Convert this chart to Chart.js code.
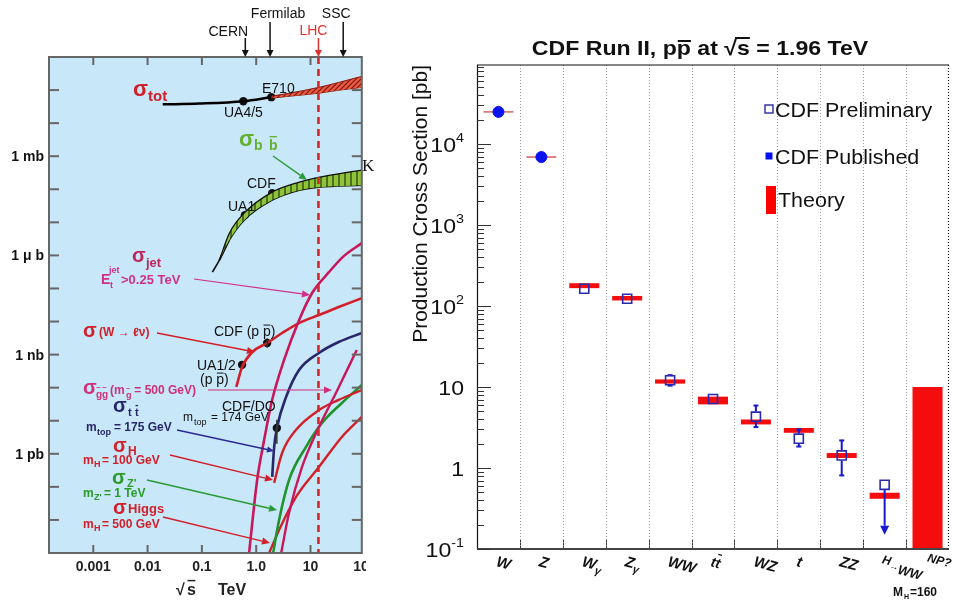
<!DOCTYPE html>
<html><head><meta charset="utf-8">
<script src="https://cdn.jsdelivr.net/npm/chart.js@4.4.0/dist/chart.umd.min.js"></script>
<style>
html,body{margin:0;padding:0;background:#fff;width:957px;height:600px;overflow:hidden}
#lwrap{position:absolute;left:0;top:0;width:366px;height:600px}
#rwrap{position:absolute;left:400px;top:0;width:557px;height:600px}
#kch{position:absolute;left:362px;top:156px;font:17px "Liberation Serif",serif;color:#111}
</style></head><body>
<div id="lwrap"><canvas id="left" width="366" height="600"></canvas></div>
<div id="rwrap"><canvas id="right" width="557" height="600"></canvas></div>
<div id="kch">K</div>
<script>
// ================= LEFT PANEL DATA (x: sqrt(s) in TeV, y: cross section in barn) =================
const totX = [0.019, 0.09, 0.58, 1.9, 6.2, 14, 33, 88];
const totY = [0.037, 0.039, 0.046, 0.061, 0.080, 0.10, 0.135, 0.185];
const totBandX = [1.9, 4.0, 14, 33, 88];
const totBandHi = [0.065, 0.080, 0.12, 0.17, 0.26];
const totBandLo = [0.057, 0.065, 0.080, 0.099, 0.12];
const totPtsX = [0.58, 1.9];
const totPtsY = [0.046, 0.061];

const bbTailX = [0.156, 0.21, 0.32];
const bbTailY = [3.1e-7, 7.2e-7, 2.9e-6];
const bbX = [0.21, 0.32, 0.60, 1.97, 6.2, 14, 88];
const bbHi = [7.2e-7, 4.7e-6, 1.9e-5, 8.2e-5, 1.64e-4, 2.3e-4, 3.8e-4];
const bbLo = [7.2e-7, 2.9e-6, 1.16e-5, 4.7e-5, 9.4e-5, 1.16e-4, 1.33e-4];
const bbPtsX = [0.62, 1.97];
const bbPtsY = [1.65e-5, 7.6e-5];

const jetX = [0.74, 1.04, 1.40, 1.97, 3.26, 6.15, 10.7, 21.8, 41, 88];
const jetY = [1e-15, 1.6e-13, 2.6e-12, 4.3e-11, 6.9e-10, 1.1e-8, 7.3e-8, 3.1e-7, 9.5e-7, 2.35e-6];

const wX = [0.43, 0.55, 0.85, 1.59, 3.0, 6.15, 14.3, 33, 88];
const wY = [1.05e-10, 4.2e-10, 1.2e-9, 2.24e-9, 4.5e-9, 9.0e-9, 1.57e-8, 2.74e-8, 5.1e-8];
const wPtsX = [0.55, 1.59];
const wPtsY = [4.9e-10, 2.24e-9];

const ttX = [1.97, 2.14, 2.43, 3.55, 6.15, 14.3, 33, 88];
const ttY = [2.0e-13, 1.6e-12, 6.5e-12, 5.2e-11, 3.4e-10, 1.12e-9, 2.4e-9, 4.5e-9];
const ttPtsX = [2.4];
const ttPtsY = [6.0e-12];

const ggX = [2.88, 4.03, 6.98, 14.3, 29.4, 71];
const ggY = [1e-15, 1.64e-14, 4.0e-13, 6.5e-12, 6.9e-11, 1.38e-9];

const h100X = [2.14, 3.0, 5.42, 14.3, 33, 88];
const h100Y = [1.32e-13, 1.06e-12, 5.3e-12, 2.1e-11, 4.25e-11, 8.5e-11];

const zpX = [2.05, 2.64, 4.03, 8.27, 16.3, 37.8, 88];
const zpY = [1e-15, 1.0e-14, 1.63e-13, 1.62e-12, 8.6e-12, 3.45e-11, 1.21e-10];

const h500X = [1.73, 2.64, 5.42, 14.3, 37.8, 88];
const h500Y = [1e-15, 5.0e-15, 5.0e-14, 4.0e-13, 3.24e-12, 1.3e-11];

const colliderNames = ['CERN', 'Fermilab', 'LHC', 'SSC'];
const colliderE = [0.63, 1.8, 14, 40];
const xTickVals = [0.001, 0.01, 0.1, 1, 10, 100];
const xTickLabels = ['0.001', '0.01', '0.1', '1.0', '10', '100'];
const yTickVals = [1e-3, 1e-6, 1e-9, 1e-12];
const yTickLabels = ['1 mb', '1 \u03bc b', '1 nb', '1 pb'];

// ================= RIGHT PANEL DATA (pb) =================
const processes = ['W', 'Z', 'W\u03b3', 'Z\u03b3', 'WW', 'tt\u0304', 'WZ', 't', 'ZZ', 'H\u2192WW', 'NP?'];
const cdfPublished   = [24900, 6900, null, null, null, null, null, null, null, null, null];
const cdfPreliminary = [null, null, 163, 123, 12.1, 7.1, 4.3, 2.3, 1.43, 0.62, null];
const errLow  = [null, null, 152, 116, 10.4, 6.7, 3.2, 1.84, 0.81, null, null];
const errHigh = [null, null, 175, 131, 14.0, 7.5, 5.9, 2.99, 2.19, null, null];
const upperLimitTo = [null, null, null, null, null, null, null, null, null, 0.15, null];
const theoryLow  = [24400, 6760, 166, 117, 11.0, 6.1, 3.45, 2.72, 1.33, 0.417, 0.1];
const theoryHigh = [25400, 7050, 191, 133, 12.4, 7.6, 3.97, 3.12, 1.53, 0.495, 10];
const rYTickVals = [0.1, 1, 10, 100, 1000, 10000];
const rYTickBase = ['10', '1', '10', '10', '10', '10'];
const rYTickExp  = ['-1', '', '', '2', '3', '4'];

// ================= helpers =================
const SANS = '"Liberation Sans", Arial, Helvetica, sans-serif';
function T(ctx, s, x, y, size, color, opt) {
  opt = opt || {};
  ctx.save();
  ctx.font = (opt.italic ? 'italic ' : '') + (opt.bold ? 'bold ' : '') + size + 'px ' + SANS;
  ctx.fillStyle = color;
  ctx.textBaseline = opt.baseline || 'alphabetic';
  ctx.textAlign = 'left';
  const sx = opt.sx || 1;
  const w = ctx.measureText(s).width * sx;
  let x0 = x;
  if (opt.align === 'center') x0 = x - w / 2;
  else if (opt.align === 'right') x0 = x - w;
  ctx.translate(x0, y);
  ctx.scale(sx, 1);
  ctx.fillText(s, 0, 0);
  if (opt.over) {
    ctx.strokeStyle = color; ctx.lineWidth = opt.overW || 1.3;
    const yy = -size * (opt.overY || 0.8);
    ctx.beginPath(); ctx.moveTo(0.5, yy); ctx.lineTo(w / sx - 0.5, yy); ctx.stroke();
  }
  ctx.restore();
  return w;
}
function measure(ctx, s, size, opt) {
  opt = opt || {};
  ctx.save();
  ctx.font = (opt.italic ? 'italic ' : '') + (opt.bold ? 'bold ' : '') + size + 'px ' + SANS;
  const w = ctx.measureText(s).width * (opt.sx || 1);
  ctx.restore();
  return w;
}
function arrow(ctx, x1, y1, x2, y2, color, w, head, hw) {
  head = head || 8; hw = hw || head * 0.45;
  const ang = Math.atan2(y2 - y1, x2 - x1);
  const bx = x2 - head * Math.cos(ang), by = y2 - head * Math.sin(ang);
  ctx.save();
  ctx.strokeStyle = color; ctx.fillStyle = color; ctx.lineWidth = w;
  ctx.beginPath(); ctx.moveTo(x1, y1); ctx.lineTo(bx, by); ctx.stroke();
  ctx.beginPath(); ctx.moveTo(x2, y2);
  ctx.lineTo(bx - hw * Math.sin(ang), by + hw * Math.cos(ang));
  ctx.lineTo(bx + hw * Math.sin(ang), by - hw * Math.cos(ang));
  ctx.closePath(); ctx.fill();
  ctx.restore();
}
function seg(ctx, x1, y1, x2, y2) { ctx.beginPath(); ctx.moveTo(x1, y1); ctx.lineTo(x2, y2); ctx.stroke(); }
const xy = (xs, ys) => xs.map((x, i) => ({x: x, y: ys[i]}));

// ================= LEFT CHART =================
const lctx = document.getElementById('left').getContext('2d');
function pattern(bg, fg, kind) {
  const c = document.createElement('canvas');
  const n = kind === 'diag' ? 5 : 6;
  c.width = n; c.height = n;
  const g = c.getContext('2d');
  g.fillStyle = bg; g.fillRect(0, 0, n, n);
  g.strokeStyle = fg; g.lineWidth = 1.1;
  g.beginPath();
  if (kind === 'diag') {
    g.moveTo(0, n); g.lineTo(n, 0); g.moveTo(-1, 1); g.lineTo(1, -1); g.moveTo(n - 1, n + 1); g.lineTo(n + 1, n - 1);
  } else {
    g.moveTo(n / 2, 0); g.lineTo(n / 2, n);
  }
  g.stroke();
  return lctx.createPattern(c, 'repeat');
}
const RED = '#d2202a', CRIM = '#c8185a', NAVY = '#27266a', GRN = '#1f932c';

function curve(xs, ys, color, width, extra) {
  return Object.assign({data: xy(xs, ys), showLine: true, borderColor: color, borderWidth: width,
    pointRadius: 0, cubicInterpolationMode: 'monotone', fill: false}, extra || {});
}
function pts(xs, ys) {
  return {data: xy(xs, ys), showLine: false, pointRadius: 4.2, pointBackgroundColor: '#111',
    pointBorderColor: '#111', pointBorderWidth: 0, borderColor: '#111'};
}

const leftDeco = {
  id: 'leftDeco',
  beforeDraw(chart) {
    const {ctx, chartArea: a} = chart;
    ctx.save();
    ctx.fillStyle = '#fff'; ctx.fillRect(0, 0, chart.width, chart.height);
    ctx.fillStyle = '#c8e7f8'; ctx.fillRect(a.left, a.top, a.right - a.left, a.bottom - a.top);
    ctx.restore();
  },
  afterDatasetsDraw(chart) {
    const {ctx, chartArea: a} = chart;
    const xs = chart.scales.x, ys = chart.scales.y;
    ctx.save();
    // LHC dashed line
    const xl = xs.getPixelForValue(colliderE[2]);
    ctx.strokeStyle = '#d42828'; ctx.lineWidth = 2.6; ctx.setLineDash([7, 5]);
    seg(ctx, xl, a.top, xl, a.bottom);
    ctx.setLineDash([]);
    // small error bars on CDF points
    ctx.strokeStyle = '#333'; ctx.lineWidth = 1.5;
    let px = xs.getPixelForValue(wPtsX[1]);
    seg(ctx, px, ys.getPixelForValue(wPtsY[1] * 1.4), px, ys.getPixelForValue(wPtsY[1] / 1.4));
    px = xs.getPixelForValue(ttPtsX[0]);
    seg(ctx, px, ys.getPixelForValue(ttPtsY[0] * 1.8), px, ys.getPixelForValue(ttPtsY[0] / 3));
    // frame
    ctx.strokeStyle = '#666'; ctx.lineWidth = 2;
    ctx.strokeRect(a.left, a.top, a.right - a.left, a.bottom - a.top);
    for (let k = -14; k <= -1; k++) {
      const y = ys.getPixelForValue(Math.pow(10, k));
      seg(ctx, a.left, y, a.left + 10, y);
      seg(ctx, a.right - 10, y, a.right, y);
    }
    xTickVals.forEach(v => {
      if (v > xs.max) return;
      const x = xs.getPixelForValue(v);
      seg(ctx, x, a.top, x, a.top + 8);
      seg(ctx, x, a.bottom - 8, x, a.bottom);
    });
    // tick labels
    xTickVals.forEach((v, i) => {
      T(ctx, xTickLabels[i], xs.getPixelForValue(v), 571, 14, '#222', {bold: true, align: 'center'});
    });
    yTickVals.forEach((v, i) => {
      T(ctx, yTickLabels[i], 44, ys.getPixelForValue(v) + 5, 14, '#111', {bold: true, align: 'right'});
    });
    // axis title
    T(ctx, '\u221a', 176, 595, 16, '#222', {bold: true});
    T(ctx, 's', 187, 595, 16, '#222', {bold: true, over: true, overY: 0.9, overW: 1.5});
    T(ctx, 'TeV', 218, 595, 16, '#222', {bold: true});
    // collider labels
    const labY = [36, 18, 35, 18], arrY = [38, 22, 38, 22], labDx = [-17, 8, -5, -7];
    colliderNames.forEach((n, i) => {
      const x = xs.getPixelForValue(colliderE[i]);
      const col = n === 'LHC' ? '#e03030' : '#111';
      T(ctx, n, x + labDx[i], labY[i], 14, col, {align: 'center'});
      arrow(ctx, x, arrY[i], x, a.top, col, 1.5, 7, 3.5);
    });
    // annotations
    T(ctx, '\u03c3', 133, 96, 22, RED, {bold: true});
    T(ctx, 'tot', 148, 101, 15, RED, {bold: true});
    T(ctx, 'E710', 262, 93, 14, '#111');
    T(ctx, 'UA4/5', 224, 117, 14, '#111');
    T(ctx, '\u03c3', 239, 146, 22, '#63b030', {bold: true});
    T(ctx, 'b', 254, 150, 14, '#63b030', {bold: true});
    T(ctx, 'b', 269, 150, 14, '#63b030', {bold: true, over: true, overY: 0.95});
    arrow(ctx, 273, 156, 307, 180, '#2a9a3a', 1.4, 8);
    T(ctx, 'CDF', 247, 188, 14, '#111');
    T(ctx, 'UA1', 228, 211, 14, '#111');
    T(ctx, '\u03c3', 132, 262, 20, '#c0255a', {bold: true});
    T(ctx, 'jet', 146, 267, 13, '#c0255a', {bold: true});
    T(ctx, 'E', 101, 284, 14, '#d0308a', {bold: true});
    T(ctx, 'jet', 109, 273, 9, '#d0308a', {bold: true});
    T(ctx, 't', 110, 288, 9, '#d0308a', {bold: true});
    T(ctx, '>0.25 TeV', 121, 284, 13, '#d0308a', {bold: true});
    arrow(ctx, 194, 279, 310, 295, '#d0308a', 1.2, 8);
    T(ctx, '\u03c3', 83, 337, 20, RED, {bold: true});
    T(ctx, '(W \u2192 \u2113\u03bd)', 99, 336, 12, RED, {bold: true});
    arrow(ctx, 157, 333, 255, 352, RED, 1.4, 8);
    T(ctx, 'CDF (p ', 214, 336, 14, '#111');
    let w0 = measure(lctx, 'CDF (p ', 14);
    let w1 = T(ctx, 'p', 214 + w0, 336, 14, '#111', {over: true, overY: 0.78, overW: 1});
    T(ctx, ')', 214 + w0 + w1, 336, 14, '#111');
    T(ctx, 'UA1/2', 197, 370, 14, '#111');
    T(ctx, '(p ', 200, 384, 14, '#111');
    w0 = measure(lctx, '(p ', 14);
    w1 = T(ctx, 'p', 200 + w0, 384, 14, '#111', {over: true, overY: 0.78, overW: 1});
    T(ctx, ')', 200 + w0 + w1, 384, 14, '#111');
    const GG = '#d0307a';
    T(ctx, '\u03c3', 83, 394, 20, GG, {bold: true});
    T(ctx, 'gg', 96, 398, 10, GG, {bold: true});
    T(ctx, '~', 96, 390, 8, GG, {bold: true});
    T(ctx, '~', 102, 390, 8, GG, {bold: true});
    T(ctx, '(m', 110, 394, 12, GG, {bold: true});
    T(ctx, 'g', 126, 398, 9, GG, {bold: true});
    T(ctx, '~', 126, 391, 7, GG, {bold: true});
    T(ctx, ' = 500 GeV)', 131, 394, 12, GG, {bold: true});
    arrow(ctx, 208, 390, 332, 390, GG, 1.2, 8);
    T(ctx, '\u03c3', 113, 412, 20, NAVY, {bold: true});
    T(ctx, 't', 128, 416, 11, NAVY, {bold: true});
    T(ctx, 't', 135, 416, 11, NAVY, {bold: true, over: true, overY: 0.95});
    T(ctx, 'm', 86, 431, 12, NAVY, {bold: true});
    T(ctx, 'top', 97, 435, 9, NAVY, {bold: true});
    T(ctx, '= 175 GeV', 114, 431, 12, NAVY, {bold: true});
    arrow(ctx, 177, 430, 274, 451, '#2a2a90', 1.4, 7);
    T(ctx, 'CDF/DO', 222, 411, 14, '#111');
    T(ctx, 'm', 183, 421, 12, '#111');
    T(ctx, 'top', 194, 425, 9, '#111');
    T(ctx, '= 174 GeV', 211, 421, 12, '#111');
    T(ctx, '\u03c3', 113, 452, 20, RED, {bold: true});
    T(ctx, 'H', 128, 455, 12, RED, {bold: true});
    T(ctx, 'm', 83, 464, 12, RED, {bold: true});
    T(ctx, 'H', 94, 467, 9, RED, {bold: true});
    T(ctx, '= 100 GeV', 102, 464, 12, RED, {bold: true});
    arrow(ctx, 170, 455, 273, 480, RED, 1.4, 8);
    T(ctx, '\u03c3', 112, 484, 20, '#2a9a2a', {bold: true});
    T(ctx, "Z'", 127, 487, 11, '#2a9a2a', {bold: true});
    T(ctx, 'm', 83, 497, 12, '#2a9a2a', {bold: true});
    T(ctx, "Z'", 94, 500, 9, '#2a9a2a', {bold: true});
    T(ctx, '= 1 TeV', 104, 497, 12, '#2a9a2a', {bold: true});
    arrow(ctx, 147, 480, 277, 510, '#2a9a3a', 1.4, 8);
    T(ctx, '\u03c3', 113, 514, 20, RED, {bold: true});
    T(ctx, 'Higgs', 128, 513, 13, RED, {bold: true});
    T(ctx, 'm', 83, 528, 12, RED, {bold: true});
    T(ctx, 'H', 94, 531, 9, RED, {bold: true});
    T(ctx, '= 500 GeV', 102, 528, 12, RED, {bold: true});
    arrow(ctx, 163, 517, 270, 543, RED, 1.4, 8);
    ctx.restore();
  }
};

new Chart(lctx, {
  type: 'line',
  data: {datasets: [
    curve(totBandX, totBandHi, '#8a1a10', 1, {fill: '+1', backgroundColor: pattern('#ea5a3e', '#7a1510', 'diag')}),
    curve(totBandX, totBandLo, '#8a1a10', 1),
    curve(totX, totY, '#000', 2.5),
    curve(bbX, bbHi, '#111', 1.3, {fill: '+1', backgroundColor: pattern('#8ec43a', '#1a2a08', 'vert')}),
    curve(bbX, bbLo, '#111', 1.6),
    curve(bbTailX, bbTailY, '#111', 1.6),
    curve(jetX, jetY, CRIM, 2.6),
    curve(wX, wY, RED, 2.6),
    curve(ttX, ttY, NAVY, 2.6),
    curve(ggX, ggY, CRIM, 2.4),
    curve(h100X, h100Y, RED, 2.4),
    curve(zpX, zpY, GRN, 2.6),
    curve(h500X, h500Y, RED, 2.4),
    pts(totPtsX, totPtsY),
    pts(bbPtsX, bbPtsY),
    pts(wPtsX, wPtsY),
    pts(ttPtsX, ttPtsY)
  ]},
  options: {
    responsive: false, animation: false, events: [],
    layout: {padding: {left: 49, right: 3, top: 57, bottom: 47}},
    plugins: {legend: {display: false}, tooltip: {enabled: false}},
    scales: {
      x: {type: 'logarithmic', min: 1.53e-4, max: 88, display: false},
      y: {type: 'logarithmic', min: 1e-15, max: 1, display: false}
    }
  },
  plugins: [leftDeco]
});

// ================= RIGHT CHART =================
const rctx = document.getElementById('right').getContext('2d');
const OX = 400;
const SX = 1.1;
const labelSegs = {
  'W': [['W', 15, 0]],
  'Z': [['Z', 15, 0]],
  'W\u03b3': [['W', 15, 0], ['\u03b3', 11, 4]],
  'Z\u03b3': [['Z', 15, 0], ['\u03b3', 11, 4]],
  'WW': [['WW', 15, 0]],
  'tt\u0304': [['t', 14, 0], ['t', 14, 0, true]],
  'WZ': [['WZ', 15, 0]],
  't': [['t', 15, 0]],
  'ZZ': [['ZZ', 15, 0]],
  'H\u2192WW': [['H', 12, -3], ['\u2192', 9, 0], ['WW', 13, 3]],
  'NP?': [['NP?', 12, -5]]
};
const labelDx = {'H\u2192WW': -4, 'NP?': -2};

const rightDeco = {
  id: 'rightDeco',
  beforeDraw(chart) {
    const ctx = chart.ctx;
    ctx.save(); ctx.fillStyle = '#fff'; ctx.fillRect(0, 0, chart.width, chart.height); ctx.restore();
  },
  beforeDatasetsDraw(chart) {
    const {ctx, chartArea: a} = chart;
    const xs = chart.scales.x;
    ctx.save();
    ctx.strokeStyle = '#9a9a9a'; ctx.lineWidth = 1; ctx.setLineDash([1, 2]);
    for (let i = 1; i < processes.length; i++) {
      const x = Math.round(xs.getPixelForValue(i - 0.5)) + 0.5;
      seg(ctx, x, a.top, x, a.bottom);
    }
    ctx.restore();
  },
  afterDatasetDraw(chart, args) {
    if (args.index !== 0) return;
    const ctx = chart.ctx;
    const xs = chart.scales.x, ys = chart.scales.y;
    ctx.save();
    ctx.strokeStyle = '#1818d0'; ctx.fillStyle = '#1818d0'; ctx.lineWidth = 2;
    processes.forEach((p, i) => {
      const v = cdfPreliminary[i];
      if (v == null) return;
      const x = xs.getPixelForValue(i);
      const y0 = ys.getPixelForValue(v);
      if (errHigh[i] != null) {
        const yh = ys.getPixelForValue(errHigh[i]);
        if (yh < y0 - 5) { seg(ctx, x, y0 - 5, x, yh); seg(ctx, x - 2.5, yh, x + 2.5, yh); }
      }
      if (errLow[i] != null) {
        const yl = ys.getPixelForValue(errLow[i]);
        if (yl > y0 + 5) { seg(ctx, x, y0 + 5, x, yl); seg(ctx, x - 2.5, yl, x + 2.5, yl); }
      }
      if (upperLimitTo[i] != null) {
        arrow(ctx, x, y0 + 5, x, ys.getPixelForValue(upperLimitTo[i]), '#1818d0', 2, 9, 4.5);
      }
    });
    ctx.restore();
  },
  afterDraw(chart) {
    const {ctx, chartArea: a} = chart;
    const xs = chart.scales.x, ys = chart.scales.y;
    ctx.save();
    // frame
    ctx.strokeStyle = '#111'; ctx.lineWidth = 1.2;
    seg(ctx, a.left, a.top, a.right, a.top);
    seg(ctx, a.left + 0.5, a.top, a.left + 0.5, a.bottom);
    ctx.setLineDash([1, 2]);
    seg(ctx, a.right - 0.5, a.top, a.right - 0.5, a.bottom);
    ctx.setLineDash([]);
    ctx.strokeStyle = '#444'; ctx.lineWidth = 2;
    seg(ctx, a.left, a.bottom, a.right, a.bottom);
    // x ticks at category boundaries
    ctx.strokeStyle = '#333'; ctx.lineWidth = 1; ctx.setLineDash([2, 1]);
    for (let i = 1; i < processes.length; i++) {
      const x = Math.round(xs.getPixelForValue(i - 0.5)) + 0.5;
      seg(ctx, x, a.bottom - 9, x, a.bottom);
    }
    ctx.setLineDash([]);
    // y ticks
    ctx.strokeStyle = '#333'; ctx.lineWidth = 1;
    for (let k = -1; k <= 4; k++) {
      for (let m = 1; m <= 9; m++) {
        const v = m * Math.pow(10, k);
        if (v > ys.max) break;
        const y = Math.round(ys.getPixelForValue(v)) + 0.5;
        seg(ctx, a.left, y, a.left + (m === 1 ? 14 : 7), y);
      }
    }
    // y tick labels
    rYTickVals.forEach((v, i) => {
      const y = ys.getPixelForValue(v) + 8;
      const right = a.left - 13;
      const ew = rYTickExp[i] ? measure(ctx, rYTickExp[i], 13, {sx: SX}) : 0;
      const bw = measure(ctx, rYTickBase[i], 21, {sx: SX});
      T(ctx, rYTickBase[i], right - ew - bw, y, 21, '#111', {sx: SX});
      if (rYTickExp[i]) T(ctx, rYTickExp[i], right - ew, y - 10, 13, '#111', {sx: SX});
    });
    // x labels (tilted)
    processes.forEach((p, i) => {
      const cx = xs.getPixelForValue(i);
      const segs = labelSegs[p];
      ctx.save();
      ctx.translate(cx + (labelDx[p] !== undefined ? labelDx[p] : -3), 566);
      ctx.rotate(15 * Math.PI / 180);
      let x = 0;
      segs.forEach(s => {
        x += T(ctx, s[0], x, s[2], s[1], '#111', {bold: true, italic: true, over: !!s[3], overY: 0.95});
      });
      ctx.restore();
    });
    T(ctx, 'M', 893 - OX, 596, 12, '#111', {bold: true});
    T(ctx, 'H', 904 - OX, 599, 7, '#111', {bold: true});
    T(ctx, '=160', 910 - OX, 596, 12, '#111', {bold: true});
    // title
    const TS = 21;
    const parts = [['CDF Run II, p'], ['p', 'over'], [' at '], ['\u221a', 'rad'], ['s', 'rs'], [' = 1.96 TeV']];
    let tot = 0;
    parts.forEach(pp => { tot += measure(ctx, pp[0], TS, {bold: true, sx: SX}); });
    let x = 700 - OX - tot / 2;
    const by = 55;
    parts.forEach(pp => {
      const w = T(ctx, pp[0], x, by, TS, '#111', {bold: true, sx: SX});
      if (pp[1] === 'over' || pp[1] === 'rs') {
        ctx.save(); ctx.strokeStyle = '#111'; ctx.lineWidth = 2;
        const yy = pp[1] === 'over' ? by - 14 : by - 17;
        seg(ctx, pp[1] === 'rs' ? x - 2 : x + 1, yy, x + w, yy);
        ctx.restore();
      }
      x += w;
    });
    // y title
    ctx.save();
    ctx.translate(421 - OX, 65);
    ctx.rotate(-Math.PI / 2);
    ctx.font = '21px ' + SANS;
    ctx.fillStyle = '#111'; ctx.textAlign = 'right'; ctx.textBaseline = 'middle';
    ctx.fillText('Production Cross Section [pb]', 0, 0);
    ctx.restore();
    // legend
    ctx.strokeStyle = '#2a2aa0'; ctx.lineWidth = 1.4;
    ctx.strokeRect(765 - OX, 105, 8, 8);
    ctx.fillStyle = '#0010f0'; ctx.fillRect(765.5 - OX, 152.5, 7, 7);
    ctx.fillStyle = '#f00'; ctx.fillRect(766 - OX, 186, 10, 28);
    T(ctx, 'CDF Preliminary', 775 - OX, 117, 19.5, '#111', {sx: SX});
    T(ctx, 'CDF Published', 775 - OX, 164, 19.5, '#111', {sx: SX});
    T(ctx, 'Theory', 778 - OX, 207, 19.5, '#111', {sx: SX});
    ctx.restore();
  }
};

const theoryColors = processes.map((p, i) => i < 2 ? '#d45a5a' : '#f50d0d');
new Chart(rctx, {
  type: 'bar',
  data: {
    labels: processes,
    datasets: [
      {type: 'bar', data: processes.map((p, i) => [theoryLow[i], theoryHigh[i]]),
        backgroundColor: theoryColors, borderWidth: 0, barPercentage: 0.7, categoryPercentage: 1.0, order: 2},
      {type: 'line', data: cdfPreliminary, showLine: false, pointStyle: 'rect', pointRadius: 6.4,
        pointBorderColor: '#2a2ab0', pointBackgroundColor: 'rgba(0,0,0,0)', pointBorderWidth: 1.6, order: 1},
      {type: 'line', data: cdfPublished, showLine: false, pointStyle: 'circle', pointRadius: 5.5,
        pointBorderColor: '#0a14ee', pointBackgroundColor: '#0a14ee', pointBorderWidth: 1, order: 1}
    ]
  },
  options: {
    responsive: false, animation: false, events: [],
    layout: {padding: {left: 77, right: 5, top: 65, bottom: 51}},
    plugins: {legend: {display: false}, tooltip: {enabled: false}},
    scales: {
      x: {type: 'category', offset: true, display: false},
      y: {type: 'logarithmic', min: 0.1, max: 94400, display: false}
    }
  },
  plugins: [rightDeco]
});
</script></body></html>
